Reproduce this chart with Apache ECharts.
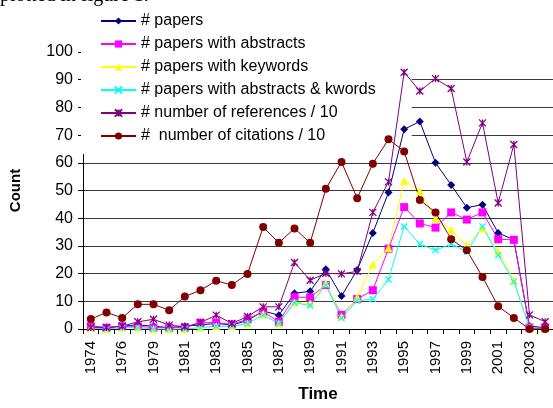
<!DOCTYPE html>
<html><head><meta charset="utf-8">
<script src="https://cdn.jsdelivr.net/npm/echarts@6/dist/echarts.min.js"></script>
<style>html,body{margin:0;padding:0;background:#fff;overflow:hidden}#c{width:553px;height:408px}</style>
</head><body><div id="c"></div>
<script>
const years = ['1974','1975','1976','1977','1979','1980','1981','1982','1983','1984','1985','1986','1987','1988','1989','1990','1991','1992','1993','1994','1995','1996','1997','1998','1999','2000','2001','2002','2003','2004'];
const papers = [1,0.5,1,1.5,1,0.5,1,1.5,2,1.5,3,6.5,5,12.9,13.6,21.6,11.9,21.3,34.7,49.3,72.1,74.9,60,52,43.8,44.9,34.7,32.2,1,0.5];
const withAbstracts = [1,0.5,1,1,0.5,0.5,0.5,2.3,2.3,1.7,3.5,6.3,2.6,11.5,11.4,15.9,5.1,10.8,14,29,44,38.1,36.6,42.1,39.5,42.1,32.4,32.2,0.5,0.5];
const withKeywords = [0.5,0,0.5,0.5,0,0,0,0.5,1,1,2,5.5,2,9.7,9.2,16.5,4.5,11.4,23.3,29.2,53.5,49.7,39.8,35.8,30.1,36.4,27.9,17.6,0.5,0];
const withBoth = [0.5,0,0.5,0.5,0,0,0,0.5,1,1,2,5,2,9.5,8.5,15.9,4,10.2,10.8,17.9,37,30.7,28.4,30.7,27.9,37,26.7,17.1,0.5,0];
const references10 = [0.5,0.5,1,2.6,3.5,1.4,0.8,2.3,5,2,4.5,8,8,24,17.6,20.1,19.9,20.8,42.1,53.1,92.7,85.9,90.4,86.8,60.3,74.4,45.5,66.6,5.1,2.6];
const citations10 = [3.6,6,4,8.9,8.9,6.8,11.7,14,17.4,15.9,19.9,36.8,31.1,36.3,31.1,50.6,60.3,47.2,59.7,68.5,64.1,46.6,42.1,32.4,28.4,18.8,8.2,4,0,0];
const seriesNames = ['# papers','# papers with abstracts','# papers with keywords','# papers with abstracts & kwords','# number of references / 10','#  number of citations / 10'];

const FONT = 'Liberation Sans, Arial, sans-serif';
function mk(name, data, color, symbol, size, stroke) {
  return {
    name, type: 'line', data, symbol, symbolSize: size, showAllSymbol: true,
    lineStyle: { color, width: 1 },
    itemStyle: stroke ? { color, borderColor: color, borderWidth: 1.3 } : { color, borderWidth: 0 },
    emphasis: { disabled: true }, animation: false
  };
}
const chart = echarts.init(document.getElementById('c'), null, { renderer: 'canvas' });
chart.setOption({
  animation: false,
  backgroundColor: '#fff',
  graphic: [{ type: 'text', left: 0, top: -14, z: 20, style: { text: 'plotted in figure 1.', font: '20px "Liberation Serif", serif', fill: '#000' } }],
  grid: { left: 80, top: 52, width: 474, height: 293 },
  legend: {
    orient: 'vertical', left: 81, top: 0, z: 1,
    backgroundColor: '#fff', padding: [13, 36, 10, 19],
    itemWidth: 35, itemHeight: 9, itemGap: 7,
    textStyle: { fontFamily: FONT, fontSize: 16, color: '#000' },
    data: seriesNames
  },
  xAxis: {
    type: 'category', data: years, boundaryGap: true,
    name: 'Time', nameLocation: 'middle', nameGap: 57,
    nameTextStyle: { fontFamily: FONT, fontSize: 17, fontWeight: 'bold', color: '#000' },
    axisLine: { show: true, lineStyle: { color: '#000', width: 1 } },
    axisTick: { show: true, interval: 0, length: 5, lineStyle: { color: '#000' } },
    axisLabel: { interval: 1, rotate: 90, margin: 12, fontFamily: FONT, fontSize: 15, color: '#000' },
    splitLine: { show: false }
  },
  yAxis: {
    type: 'value', min: 0, max: 100, interval: 10,
    name: 'Count', nameLocation: 'middle', nameGap: 60, nameRotate: 90,
    nameTextStyle: { fontFamily: FONT, fontSize: 15, fontWeight: 'bold', color: '#000' },
    axisLine: { show: true, lineStyle: { color: '#000', width: 1 } },
    axisTick: { show: true, length: 5, lineStyle: { color: '#000' } },
    axisLabel: { margin: 10, fontFamily: FONT, fontSize: 16, color: '#000' },
    splitLine: { show: true, showMinLine: false, showMaxLine: false, lineStyle: { color: '#3a3a3a', width: 1 } }
  },
  series: [
    mk(seriesNames[0], papers, '#000080', 'diamond', 8, false),
    mk(seriesNames[1], withAbstracts, '#ff00ff', 'rect', 8, false),
    mk(seriesNames[2], withKeywords, '#ffff00', 'triangle', 8, false),
    mk(seriesNames[3], withBoth, '#00ffff', 'path://M0,0L10,10M10,0L0,10', 6, true),
    mk(seriesNames[4], references10, '#800080', 'path://M0,0L10,10M10,0L0,10M5,0L5,10', 7, true),
    mk(seriesNames[5], citations10, '#800000', 'circle', 8, false)
  ]
});
</script>
</body></html>
